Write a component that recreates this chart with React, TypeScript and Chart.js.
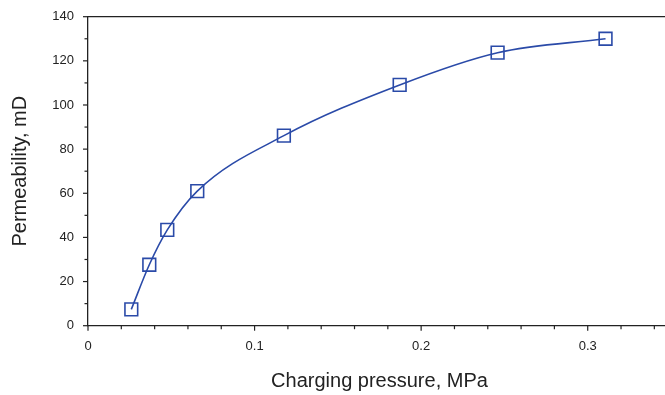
import React, { useEffect, useRef } from "react";
import { Chart, registerables } from "chart.js";

Chart.register(...registerables);

const pressure = [0.026, 0.0368, 0.0476, 0.0656, 0.1176, 0.1871, 0.2459, 0.3107];
const permeability = [7.4, 27.6, 43.4, 61.0, 86.1, 109.1, 123.7, 130.0];
const xMajorTicks = [0, 0.1, 0.2, 0.3];
const xMinorTicks = [0.02, 0.04, 0.06, 0.08, 0.12, 0.14, 0.16, 0.18, 0.22, 0.24, 0.26, 0.28, 0.32, 0.34];
const yMajorTicks = [0, 20, 40, 60, 80, 100, 120, 140];
const yMinorTicks = [10, 30, 50, 70, 90, 110, 130];

const LINE_COLOR = "#2a4aa8";
const AXIS_COLOR = "#222222";
const FONT = "'Liberation Sans', Arial, sans-serif";

const tickPlugin = {
  id: "customTicks",
  afterDraw(chart: any) {
    const ctx = chart.ctx;
    const { left, right, top, bottom } = chart.chartArea;
    const xs = chart.scales.x;
    const ys = chart.scales.y;
    ctx.save();
    ctx.strokeStyle = AXIS_COLOR;
    ctx.lineWidth = 1.3;
    ctx.beginPath();
    ctx.moveTo(left, top);
    ctx.lineTo(right, top);
    ctx.stroke();
    ctx.lineWidth = 1.2;
    const drawX = (vals: number[], len: number) => {
      vals.forEach((v) => {
        const px = xs.getPixelForValue(v);
        ctx.beginPath();
        ctx.moveTo(px, bottom);
        ctx.lineTo(px, bottom + len);
        ctx.stroke();
      });
    };
    const drawY = (vals: number[], len: number) => {
      vals.forEach((v) => {
        const py = ys.getPixelForValue(v);
        ctx.beginPath();
        ctx.moveTo(left, py);
        ctx.lineTo(left - len, py);
        ctx.stroke();
      });
    };
    drawX(xMajorTicks, 5);
    drawX(xMinorTicks, 3.5);
    drawY(yMajorTicks, 5);
    drawY(yMinorTicks, 3.5);
    ctx.restore();
  },
};

export default function App() {
  const canvasRef = useRef<HTMLCanvasElement | null>(null);

  useEffect(() => {
    if (!canvasRef.current) return;
    const chart = new Chart(canvasRef.current, {
      type: "scatter",
      data: {
        datasets: [
          {
            data: pressure.map((x, i) => ({ x, y: permeability[i] })),
            showLine: true,
            borderColor: LINE_COLOR,
            borderWidth: 1.6,
            cubicInterpolationMode: "monotone",
            pointStyle: "rect",
            pointRadius: 9,
            pointBorderWidth: 1.6,
            pointBorderColor: LINE_COLOR,
            pointBackgroundColor: "rgba(0,0,0,0)",
            backgroundColor: "rgba(0,0,0,0)",
            clip: false,
          } as any,
        ],
      },
      options: {
        animation: false,
        responsive: true,
        maintainAspectRatio: false,
        layout: { autoPadding: false, padding: { top: 16.7, right: 0, left: 0, bottom: 0 } },
        plugins: {
          legend: { display: false },
          tooltip: { enabled: false },
        },
        scales: {
          x: {
            type: "linear",
            min: 0,
            max: 0.35,
            afterBuildTicks: (scale: any) => {
              scale.ticks = xMajorTicks.map((v) => ({ value: v }));
            },
            afterFit: (scale: any) => {
              scale.height = 69.3;
              scale.paddingLeft = 0;
              scale.paddingRight = 0;
            },
            grid: { display: false, drawTicks: false },
            border: { display: true, color: AXIS_COLOR, width: 1.3 },
            ticks: {
              padding: 13,
              color: "#222",
              font: { family: FONT, size: 13 },
              maxRotation: 0,
              callback: (v: any) => String(Math.round(Number(v) * 10) / 10),
            },
            title: {
              display: true,
              text: "Charging pressure, MPa",
              color: "#222",
              font: { family: FONT, size: 20 },
              padding: { top: 0, bottom: 2 },
            },
          },
          y: {
            type: "linear",
            min: 0,
            max: 140,
            afterBuildTicks: (scale: any) => {
              scale.ticks = yMajorTicks.map((v) => ({ value: v }));
            },
            afterFit: (scale: any) => {
              scale.width = 88;
              scale.paddingTop = 0;
              scale.paddingBottom = 0;
            },
            grid: { display: false, drawTicks: false },
            border: { display: true, color: AXIS_COLOR, width: 1.3 },
            ticks: {
              padding: 14,
              color: "#222",
              font: { family: FONT, size: 13 },
            },
            title: {
              display: true,
              text: "Permeability, mD",
              color: "#222",
              font: { family: FONT, size: 20 },
              padding: { top: 8, bottom: 0 },
            },
          },
        },
      },
      plugins: [tickPlugin],
    });
    return () => chart.destroy();
  }, []);

  return (
    <div
      style={{
        position: "fixed",
        left: 0,
        top: 0,
        width: 665,
        height: 395,
        overflow: "hidden",
        background: "#fff",
      }}
    >
      <div style={{ position: "relative", width: 671, height: 395 }}>
        <canvas ref={canvasRef} />
      </div>
    </div>
  );
}
